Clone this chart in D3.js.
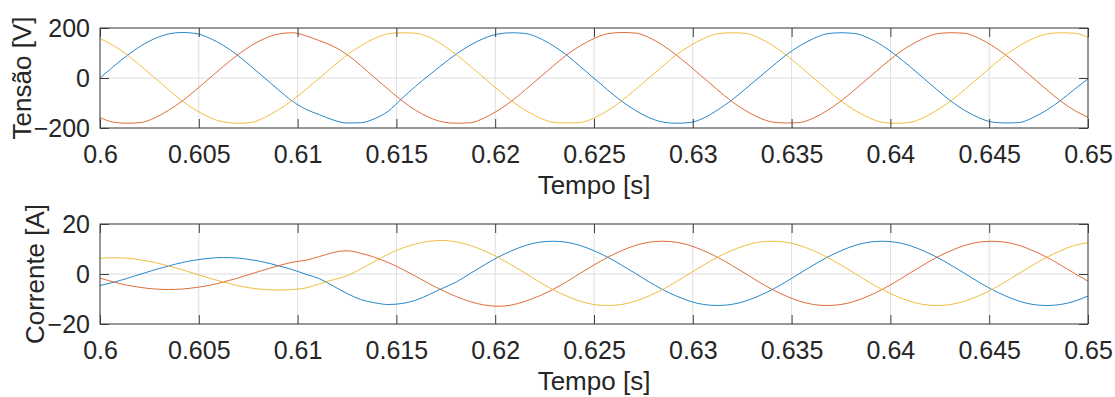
<!DOCTYPE html>
<html>
<head>
<meta charset="utf-8">
<script src="https://cdn.jsdelivr.net/npm/d3@7"></script>
<style>
    body { margin: 0; background: #fff; }
    svg { font-family: "Liberation Sans", Arial, sans-serif; }
    .tick text { fill: #262626; font-size: 25px; }
    .tick line { stroke: #404040; }
    .domain { display: none; }
    .label { fill: #262626; font-size: 26px; }
</style>
</head>
<body>
<svg width="1115" height="397"></svg>
<script>
// sample grid: 1/1440 s (15 degrees at 60 Hz)
var time = d3.range(73).map(function(i) { return 0.6 + i / 1440; });

var xTicks = [0.6, 0.605, 0.61, 0.615, 0.62, 0.625, 0.63, 0.635, 0.64, 0.645, 0.65];
var xTickLabels = ['0.6', '0.605', '0.61', '0.615', '0.62', '0.625', '0.63', '0.635', '0.64', '0.645', '0.65'];
var vTicks = [-200, 0, 200];
var iTicks = [-20, 0, 20];

// Tensão [V]
var voltageA = [0, 47, 91, 129, 158, 176, 182, 178, 159, 130, 92, 47, 0, -47, -92, -125, -147, -168, -180, -179,
    -163, -133, -82, -33, 12, 56, 97, 132, 159, 176, 181, 178, 160, 130, 92, 46, -1, -48, -92, -129,
    -158, -176, -181, -178, -160, -128, -90, -45, 1, 47, 92, 129, 158, 177, 181, 178, 160, 130, 91, 47,
    0, -47, -92, -129, -158, -176, -180, -178, -158, -128, -90, -46, -3];
var voltageB = [-158, -177, -181, -178, -159, -129, -92, -47, 0, 47, 91, 129, 158, 176, 181, 169, 149, 127, 94, 50,
    2, -45, -90, -129, -158, -176, -181, -179, -160, -130, -92, -47, 0, 47, 92, 129, 158, 177, 182, 180,
    162, 131, 92, 47, 0, -47, -92, -129, -158, -176, -180, -178, -160, -130, -92, -47, 0, 47, 92, 129,
    158, 177, 181, 179, 160, 130, 92, 47, 0, -47, -92, -129, -157];
var voltageC = [158, 129, 92, 47, 0, -47, -92, -129, -158, -176, -181, -178, -158, -127, -90, -46, 0, 47, 92, 129,
    158, 177, 181, 179, 163, 132, 92, 47, 0, -47, -92, -129, -158, -177, -180, -178, -160, -130, -92, -47,
    0, 47, 92, 129, 158, 177, 181, 179, 161, 131, 92, 47, 0, -47, -92, -129, -158, -177, -181, -178,
    -159, -129, -92, -47, 0, 47, 92, 129, 158, 176, 181, 179, 163];

// Corrente [A]
var currentA = [-4.6, -3.3, -1.7, 0.0, 1.7, 3.2, 4.6, 5.6, 6.3, 6.6, 6.4, 5.7, 4.7, 3.3, 1.8, -0.1,
    -1.9, -4.8, -7.8, -10.2, -11.5, -12.2, -11.8, -10.5, -8.2, -5.6,
    -3.1, 0.3, 3.6, 6.7, 9.3, 11.4, 12.7, 13.1, 12.7, 11.4, 9.3, 6.7, 3.6, 0.3, -3.1, -6.2, -8.8, -10.9,
    -12.2, -12.6, -12.2, -10.9, -8.8, -6.2, -3.1, 0.3, 3.6, 6.7, 9.3, 11.4, 12.7, 13.1, 12.7, 11.4, 9.3,
    6.7, 3.6, 0.3, -3.1, -6.2, -8.8, -10.9, -12.2, -12.6, -12.2, -10.9, -8.8];
var currentB = [-1.7, -3.2, -4.5, -5.4, -6.0, -6.2, -6.0, -5.4, -4.5, -3.2, -1.7, 0.0, 1.7, 3.3, 4.7,
    5.5, 7.0, 8.6, 9.3, 8.3, 6.7, 4.6, 2.0, -0.9, -3.9, -6.7,
    -9.1, -11.1, -12.4, -12.9, -12.4, -10.9, -8.8, -6.2, -3.1, 0.3, 3.6, 6.7, 9.3, 11.4, 12.7, 13.1, 12.7,
    11.4, 9.3, 6.7, 3.6, 0.3, -3.1, -6.2, -8.8, -10.9, -12.2, -12.6, -12.2, -10.9, -8.8, -6.2, -3.1, 0.3,
    3.6, 6.7, 9.3, 11.4, 12.7, 13.1, 12.7, 11.4, 9.3, 6.7, 3.6, 0.3, -2.9];
var currentC = [6.3, 6.5, 6.3, 5.6, 4.6, 3.2, 1.7, 0.0, -1.7, -3.2, -4.6, -5.6, -6.2, -6.4, -6.2,
    -5.6, -3.9, -2.3, -0.7, 2.0, 5.0, 7.9, 10.3, 12.0, 13.1, 13.4,
    12.8, 11.4, 9.3, 6.7, 3.6, 0.3, -3.1, -6.2, -8.8, -10.9, -12.2, -12.6, -12.2, -10.9, -8.8, -6.2, -3.1,
    0.3, 3.6, 6.7, 9.3, 11.4, 12.7, 13.1, 12.7, 11.4, 9.3, 6.7, 3.6, 0.3, -3.1, -6.2, -8.8, -10.9, -12.2,
    -12.6, -12.2, -10.9, -8.8, -6.2, -3.1, 0.3, 3.6, 6.7, 9.3, 11.4, 12.5];

var colors = ['#0072BD', '#D95319', '#EDB120'];

var dom = {};

function drawPanel(top, yDomain, yTicks, series, yLabel, yLabelX, name) {
    var left = 100, right = 1088, height = 100;
    var x = d3.scaleLinear().domain([0.6, 0.65]).range([left, right]);
    var y = d3.scaleLinear().domain(yDomain).range([top + height, top]);

    var g = dom.svg.append('g');

    // grid
    g.append('g').selectAll('line')
            .data(xTicks)
        .enter().append('line')
            .attr('x1', function(d) { return x(d); })
            .attr('x2', function(d) { return x(d); })
            .attr('y1', top).attr('y2', top + height)
            .attr('stroke', '#dedede');
    g.append('g').selectAll('line')
            .data(yTicks)
        .enter().append('line')
            .attr('x1', left).attr('x2', right)
            .attr('y1', function(d) { return y(d); })
            .attr('y2', function(d) { return y(d); })
            .attr('stroke', '#dedede');

    // data
    dom.svg.append('clipPath').attr('id', 'clip-' + name)
        .append('rect').attr('x', left).attr('y', top).attr('width', right - left).attr('height', height);

    var line = d3.line()
        .x(function(d, i) { return x(time[i]); })
        .y(function(d) { return y(d); })
        .curve(d3.curveMonotoneX);

    g.append('g').attr('clip-path', 'url(#clip-' + name + ')').selectAll('path')
            .data(series)
        .enter().append('path')
            .attr('d', line)
            .attr('fill', 'none')
            .attr('stroke', function(d, i) { return colors[i]; })
            .attr('stroke-opacity', 0.85)
            .attr('stroke-width', 1);

    // axes, ticks inside on all four sides
    g.append('g')
        .attr('transform', 'translate(0,' + (top + height) + ')')
        .call(d3.axisBottom(x).tickValues(xTicks).tickSize(-9).tickPadding(17)
            .tickFormat(function(d, i) { return xTickLabels[i]; }));
    g.append('g')
        .attr('transform', 'translate(0,' + top + ')')
        .call(d3.axisTop(x).tickValues(xTicks).tickSize(-9).tickFormat(''));
    g.append('g')
        .attr('transform', 'translate(' + left + ',0)')
        .call(d3.axisLeft(y).tickValues(yTicks).tickSize(-9).tickPadding(10));
    g.append('g')
        .attr('transform', 'translate(' + right + ',0)')
        .call(d3.axisRight(y).tickValues(yTicks).tickSize(-9).tickFormat(''));

    g.append('rect')
        .attr('x', left).attr('y', top).attr('width', right - left).attr('height', height)
        .attr('fill', 'none').attr('stroke', '#404040').attr('stroke-width', 1);

    g.append('text').attr('class', 'label')
        .attr('x', (left + right) / 2).attr('y', top + height + 66)
        .attr('text-anchor', 'middle')
        .text('Tempo [s]');

    g.append('text').attr('class', 'label')
        .attr('transform', 'translate(' + yLabelX + ',' + (top + height / 2) + ') rotate(-90)')
        .attr('text-anchor', 'middle')
        .text(yLabel);
}

function initialize() {
    dom.svg = d3.select('svg');
    drawPanel(28, [-200, 200], vTicks, [voltageA, voltageB, voltageC], 'Tensão [V]', 31, 'v');
    drawPanel(224, [-20, 20], iTicks, [currentA, currentB, currentC], 'Corrente [A]', 44, 'i');
}

initialize();
</script>
</body>
</html>
